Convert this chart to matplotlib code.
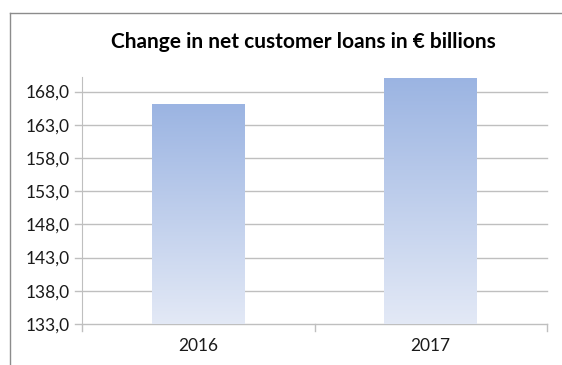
import numpy as np
import matplotlib
matplotlib.use("Agg")
import matplotlib.pyplot as plt
from matplotlib.colors import LinearSegmentedColormap
from matplotlib.lines import Line2D

# net customer loans, EUR billions
years = ["2016", "2017"]
loans = [166.2, 170.1]
yticks = [133, 138, 143, 148, 153, 158, 163, 168]

plt.rcParams["font.family"] = ["Lato", "DejaVu Sans"]

fig = plt.figure(figsize=(5.62, 3.65), dpi=100)
ax = fig.add_axes([82 / 562, 41 / 365, 465 / 562, 247 / 365])

grid_col = "#BFBFBF"
ax.set_xlim(0, 2)
ax.set_ylim(133, 170.2)

for v in yticks:
    ax.plot([-0.03, 2], [v, v], color=grid_col, lw=1, clip_on=False, zorder=1)

# gradient filled bars
cmap = LinearSegmentedColormap.from_list("fade", ["#E3E9F6", "#9BB4E2"])
grad = np.linspace(0, 1, 256).reshape(-1, 1)
width = 0.4
for i, v in enumerate(loans):
    x0 = i + 0.5 - width / 2
    bar = ax.bar(i + 0.5, v - 133, bottom=133, width=width, color="none", zorder=2)[0]
    im = ax.imshow(grad, cmap=cmap, origin="lower", aspect="auto",
                   extent=[x0, x0 + width, 133, v], zorder=2)
    im.set_clip_path(bar)

for s in ["top", "right", "bottom"]:
    ax.spines[s].set_visible(False)
ax.spines["left"].set_color(grid_col)
ax.spines["left"].set_zorder(3)

ax.set_yticks(yticks)
ax.set_yticklabels([f"{v:.1f}".replace(".", ",") for v in yticks], fontsize=12.5, color="#1a1a1a")
ax.tick_params(axis="y", length=0, pad=9)

ax.set_xticks([0.5, 1.5])
ax.set_xticklabels(years, fontsize=12.5, color="#1a1a1a")
ax.tick_params(axis="x", length=0, pad=10)
for x in [0, 1, 2]:
    ax.plot([x, x], [133, 132.0], color=grid_col, lw=1, clip_on=False)

fig.text(303 / 562, 1 - 42 / 365, "Change in net customer loans in \u20ac billions",
         ha="center", va="center", fontsize=15, fontweight="bold")

# chart frame
fig.add_artist(Line2D([9.5 / 562, 9.5 / 562], [0, 1 - 12.5 / 365], color="#8C8C8C", lw=1))
fig.add_artist(Line2D([9.5 / 562, 1], [1 - 12.5 / 365, 1 - 12.5 / 365], color="#8C8C8C", lw=1))

fig.savefig("out.png", dpi=100)
